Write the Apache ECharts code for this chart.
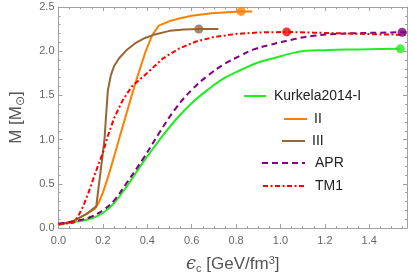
<!DOCTYPE html>
<html>
<head>
<meta charset="utf-8">
<script src="https://cdn.jsdelivr.net/npm/echarts@6/dist/echarts.min.js"></script>
<style>html,body{margin:0;padding:0;background:#fff}#c{width:411px;height:279px}</style>
</head>
<body>
<div id="c"></div>
<script>
// ---- data (energy density eps_c [GeV/fm^3], mass M [Msun]) ----
var kurkelaX = [0, 0.05, 0.1, 0.15, 0.2, 0.25, 0.31, 0.383, 0.456, 0.53, 0.603, 0.676, 0.75, 0.823, 0.896, 0.969, 1.04, 1.115, 1.2, 1.3, 1.4, 1.54];
var kurkelaY = [0.04, 0.06, 0.08, 0.11, 0.17, 0.28, 0.48, 0.75, 1.0, 1.23, 1.42, 1.57, 1.70, 1.79, 1.87, 1.92, 1.97, 2.005, 2.012, 2.018, 2.022, 2.027];

var iiX = [0, 0.068, 0.127, 0.165, 0.18, 0.2, 0.22, 0.24, 0.26, 0.28, 0.3, 0.324, 0.354, 0.39, 0.42, 0.452, 0.5, 0.544, 0.6, 0.69, 0.76, 0.823, 0.873];
var iiY = [0.035, 0.08, 0.16, 0.22, 0.28, 0.40, 0.55, 0.72, 0.89, 1.07, 1.24, 1.45, 1.70, 1.98, 2.17, 2.29, 2.34, 2.37, 2.40, 2.43, 2.44, 2.45, 2.45];

var iiiX = [0, 0.068, 0.127, 0.17, 0.185, 0.2, 0.207, 0.222, 0.236, 0.25, 0.273, 0.31, 0.346, 0.39, 0.434, 0.5, 0.566, 0.632, 0.72];
var iiiY = [0.035, 0.08, 0.16, 0.245, 0.55, 0.85, 1.0, 1.55, 1.73, 1.83, 1.92, 2.02, 2.09, 2.15, 2.19, 2.23, 2.245, 2.25, 2.25];

var aprX = [0, 0.05, 0.1, 0.15, 0.2, 0.25, 0.31, 0.383, 0.455, 0.53, 0.603, 0.676, 0.75, 0.82, 0.88, 0.95, 1.05, 1.15, 1.25, 1.35, 1.45, 1.548, 1.57];
var aprY = [0.05, 0.065, 0.09, 0.13, 0.2, 0.31, 0.52, 0.79, 1.08, 1.36, 1.57, 1.73, 1.86, 1.95, 2.02, 2.07, 2.13, 2.175, 2.195, 2.205, 2.21, 2.215, 2.216];

var tm1X = [0, 0.03, 0.068, 0.09, 0.112, 0.135, 0.156, 0.18, 0.2, 0.222, 0.25, 0.288, 0.33, 0.398, 0.471, 0.543, 0.62, 0.7, 0.8, 0.9, 1.028, 1.15, 1.3, 1.45, 1.57];
var tm1Y = [0.045, 0.05, 0.06, 0.14, 0.25, 0.4, 0.55, 0.72, 0.85, 1.04, 1.24, 1.44, 1.6, 1.75, 1.92, 2.03, 2.11, 2.16, 2.195, 2.212, 2.218, 2.21, 2.2, 2.19, 2.185];

// maximum-mass end points
var endNames = ['Kurkela2014-I', 'II', 'III', 'APR', 'TM1'];
var endX = [1.54, 0.823, 0.632, 1.548, 1.028];
var endY = [2.027, 2.45, 2.25, 2.215, 2.218];

var xTicks = [0, 0.2, 0.4, 0.6, 0.8, 1.0, 1.2, 1.4];
var yTicks = [0, 0.5, 1.0, 1.5, 2.0, 2.5];

function pairs(xs, ys) { return xs.map(function (x, i) { return [x, ys[i]]; }); }

var colors = {
  'Kurkela2014-I': '#1fee1f',
  'II': '#ff8000',
  'III': '#996633',
  'APR': '#800080',
  'TM1': '#ff0000'
};

var FONT = 'Liberation Sans';
var axisGray = '#a0a0a0';
var labelGray = '#666';

function xAxisCfg(pos, labels) {
  return {
    type: 'value', position: pos, min: 0, max: 1.57, interval: 0.2,
    axisLine: { show: true, onZero: false, lineStyle: { color: axisGray, width: 1 } },
    axisTick: { show: true, inside: true, length: 4, lineStyle: { color: axisGray } },
    minorTick: { show: true, splitNumber: 4, length: 2, lineStyle: { color: axisGray } },
    splitLine: { show: false },
    axisLabel: labels ? {
      show: true, margin: 7, color: labelGray, fontSize: 11, fontFamily: FONT,
      formatter: function (v) {
        for (var i = 0; i < xTicks.length; i++) if (Math.abs(v - xTicks[i]) < 1e-6) return xTicks[i].toFixed(1);
        return '';
      }
    } : { show: false }
  };
}
function yAxisCfg(pos, labels) {
  return {
    type: 'value', position: pos, min: 0, max: 2.5, interval: 0.5,
    axisLine: { show: true, onZero: false, lineStyle: { color: axisGray, width: 1 } },
    axisTick: { show: true, inside: true, length: 4, lineStyle: { color: axisGray } },
    minorTick: { show: true, splitNumber: 5, length: 2, lineStyle: { color: axisGray } },
    splitLine: { show: false },
    axisLabel: labels ? {
      show: true, margin: 4, color: labelGray, fontSize: 11, fontFamily: FONT,
      formatter: function (v) {
        for (var i = 0; i < yTicks.length; i++) if (Math.abs(v - yTicks[i]) < 1e-6) return yTicks[i].toFixed(1);
        return '';
      }
    } : { show: false }
  };
}

var xb = xAxisCfg('bottom', true);
xb.name = '{e|ϵ}{sub|c} [GeV/fm{sup|3}]';
xb.nameLocation = 'middle';
xb.nameGap = 27;
xb.nameTextStyle = {
  color: '#555', fontSize: 17, fontFamily: FONT,
  rich: {
    e: { fontSize: 18, fontStyle: 'italic', color: '#555', fontFamily: 'DejaVu Serif' },
    sub: { fontSize: 11, color: '#555', verticalAlign: 'bottom', padding: [8, 0, 0, 0], fontFamily: FONT },
    sup: { fontSize: 11, color: '#555', verticalAlign: 'top', padding: [0, 0, 8, 0], fontFamily: FONT }
  }
};
var yl = yAxisCfg('left', true);
yl.name = 'M [M{sub|⊙}]';
yl.nameLocation = 'middle';
yl.nameGap = 32;
yl.nameRotate = 90;
yl.nameTextStyle = {
  color: '#555', fontSize: 17, fontFamily: FONT,
  rich: {
    sub: { fontSize: 12, color: '#555', padding: [8, 0, 0, 0], fontFamily: 'DejaVu Sans' }
  }
};

function lineSeries(name, xs, ys, dash, smooth) {
  return {
    name: name, type: 'line', data: pairs(xs, ys),
    xAxisIndex: 0, yAxisIndex: 0,
    showSymbol: false, symbol: 'none',
    smooth: smooth,
    lineStyle: { color: colors[name], width: 2, type: dash || 'solid', cap: 'butt', join: 'round' },
    itemStyle: { color: colors[name] },
    emphasis: { disabled: true },
    animation: false
  };
}

var series = [
  lineSeries('Kurkela2014-I', kurkelaX, kurkelaY, 'solid', 0.4),
  lineSeries('II', iiX, iiY, 'solid', false),
  lineSeries('III', iiiX, iiiY, 'solid', false),
  lineSeries('APR', aprX, aprY, [6, 4], 0.4),
  lineSeries('TM1', tm1X, tm1Y, [5, 2.5, 2, 2.5], false)
];
endNames.forEach(function (n, i) {
  series.push({
    name: n + ' max', type: 'scatter', data: [[endX[i], endY[i]]],
    xAxisIndex: 0, yAxisIndex: 0,
    symbol: 'circle', symbolSize: 9,
    itemStyle: { color: colors[n] }, z: 5,
    emphasis: { disabled: true }, animation: false
  });
});

function legendCfg(name, left, centerY, w, pad) {
  return {
    data: [name], left: left, top: centerY - 7, itemWidth: w, itemHeight: 14,
    padding: 0, selectedMode: false, orient: 'horizontal',
    itemStyle: { opacity: 0 },
    textStyle: { fontSize: 14, color: '#222', fontFamily: FONT, padding: [0, 0, 0, pad] }
  };
}

var option = {
  animation: false,
  backgroundColor: '#fff',
  grid: { left: 49, right: 4, top: 7, bottom: 50, containLabel: false },
  xAxis: [xb, xAxisCfg('top', false)],
  yAxis: [yl, yAxisCfg('right', false)],
  legend: [
    legendCfg('Kurkela2014-I', 243, 96, 22, 3),
    legendCfg('II', 283, 119, 23, 2),
    legendCfg('III', 281, 141, 23, 2),
    legendCfg('APR', 261, 163, 43, 5),
    legendCfg('TM1', 262, 186, 42, 5)
  ],
  series: series
};

var chart = echarts.init(document.getElementById('c'), null, { renderer: 'canvas' });
chart.setOption(option);
</script>
</body>
</html>
